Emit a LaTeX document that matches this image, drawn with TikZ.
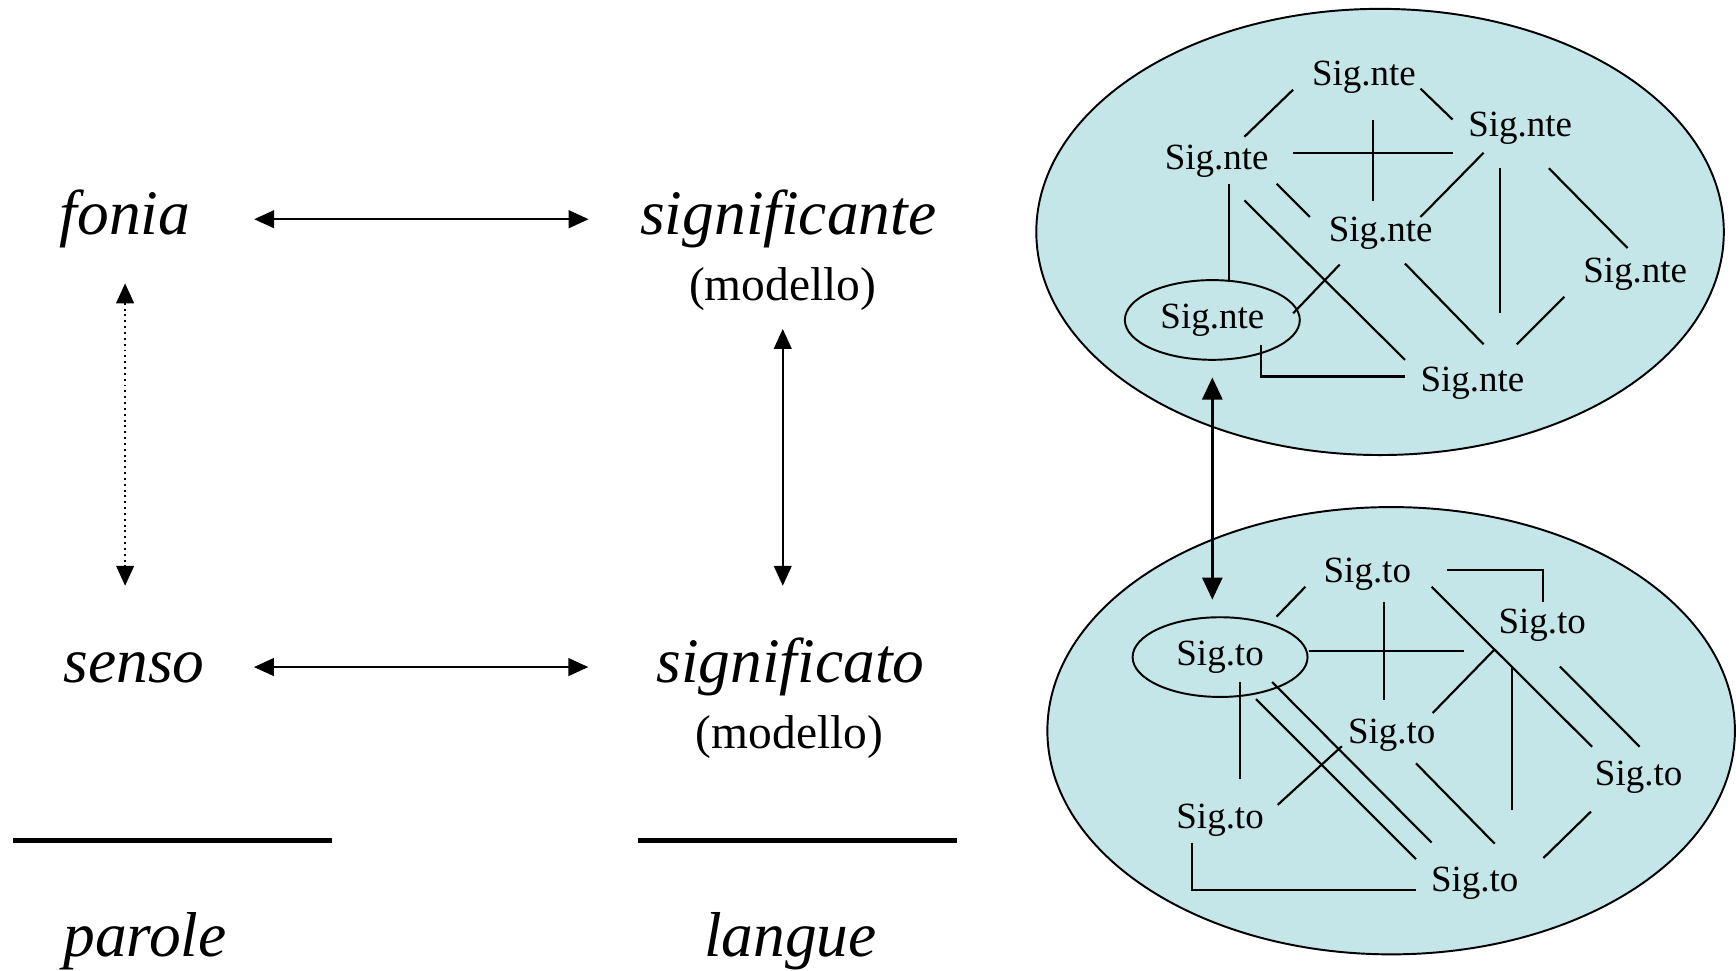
\documentclass[tikz,border=0pt]{standalone}
\usepackage{fontspec}
\setmainfont{Liberation Serif}
\usetikzlibrary{arrows.meta}
\usetikzlibrary{shapes.geometric}
\definecolor{sigblue}{RGB}{196,230,232}

\begin{document}
\begin{tikzpicture}[
  term/.style={font=\fontsize{16.3}{19}\selectfont\itshape, inner sep=0pt, text height=0.40cm, text depth=0.125cm},
  note/.style={font=\fontsize{12.2}{14}\selectfont, inner sep=0pt},
  sig/.style={font=\fontsize{9.5}{11}\selectfont, inner sep=0pt},
  sigring/.style={sig, draw, ellipse, minimum width=1.58cm, minimum height=0.72cm, line width=0.5pt},
  biarrow/.style={line width=0.5pt, {Triangle[length=0.18cm,width=0.16cm]}-{Triangle[length=0.18cm,width=0.16cm]}},
  link/.style={line width=0.55pt},
  bar/.style={line width=1.3pt}
]
\useasboundingbox (0,0) rectangle (15.68,8.77);

% left square
\node[term] (fonia) at (1.13, 6.79) {fonia};
\node[term] (significante) at (7.12, 6.79) {significante};
\node[note] (modelloA) at (7.07, 6.16) {(modello)};
\node[term] (senso) at (1.21, 2.745) {senso};
\node[term] (significato) at (7.14, 2.745) {significato};
\node[note] (modelloB) at (7.13, 2.11) {(modello)};
\node[term] (parole) at (1.31, 0.27) {parole};
\node[term] (langue) at (7.14, 0.27) {langue};

\draw[biarrow, shorten <=0.57cm, shorten >=0.46cm] (fonia) -- (significante);
\draw[biarrow, shorten <=0.44cm, shorten >=0.61cm] (senso) -- (significato);
\draw[biarrow, densely dotted, shorten <=0.31cm, shorten >=0.465cm] (fonia.south) -- (fonia.south |- senso.north);
\draw[biarrow, shorten <=0.16cm, shorten >=0.465cm] (modelloA.south) -- (modelloA.south |- significato.north);

\draw[bar] (0.12,1.18) -- (3.00,1.18);
\draw[bar] (5.76,1.18) -- (8.64,1.18);

% the two clouds
\draw[fill=sigblue, line width=0.5pt] (12.465,6.675) ellipse (3.105 and 2.015);
\draw[fill=sigblue, line width=0.5pt] (12.565,2.17) ellipse (3.105 and 2.02);

\node[sig] (nteTop) at (12.32, 8.07) {Sig.nte};
\node[sig] (nteRU) at (13.73, 7.61) {Sig.nte};
\node[sig] (nteLU) at (10.99, 7.31) {Sig.nte};
\node[sig] (nteC) at (12.47, 6.66) {Sig.nte};
\node[sig] (nteR) at (14.77, 6.29) {Sig.nte};
\node[sigring] (nteA) at (10.95, 5.88) {Sig.nte};
\node[sig] (nteB) at (13.30, 5.31) {Sig.nte};

\draw[link] (11.24,7.535) -- (11.68,7.96);
\draw[link] (12.83,7.97) -- (13.12,7.69);
\draw[link] (11.68,7.385) -- (13.12,7.385);
\draw[link] (12.40,7.69) -- (12.40,6.95);
\draw[link] (13.40,7.39) -- (12.83,6.81);
\draw[link] (13.55,7.25) -- (13.55,5.94);
\draw[link] (13.99,7.25) -- (14.70,6.53);
\draw[link] (11.10,7.11) -- (11.10,6.24);
\draw[link] (11.53,7.11) -- (11.83,6.81);
\draw[link] (11.24,6.96) -- (12.69,5.52);
\draw[link] (12.10,6.38) -- (11.68,5.94);
\draw[link] (12.69,6.39) -- (13.40,5.66);
\draw[link] (14.13,6.09) -- (13.70,5.66);
\draw[link] (11.39,5.65) -- (11.39,5.37) -- (12.69,5.37);

\node[sig] (toTop) at (12.35, 3.58) {Sig.to};
\node[sig] (toRU) at (13.93, 3.125) {Sig.to};
\node[sigring] (toA) at (11.02, 2.835) {Sig.to};
\node[sig] (toC) at (12.57, 2.13) {Sig.to};
\node[sig] (toR) at (14.80, 1.75) {Sig.to};
\node[sig] (toL) at (11.02, 1.36) {Sig.to};
\node[sig] (toB) at (13.32, 0.79) {Sig.to};

\draw[link] (11.53,3.20) -- (11.79,3.47);
\draw[link] (13.07,3.62) -- (13.94,3.62) -- (13.94,3.33);
\draw[link] (12.50,3.33) -- (12.50,2.45);
\draw[link] (11.82,2.89) -- (13.22,2.89);
\draw[link] (12.93,3.47) -- (14.38,2.025);
\draw[link] (13.50,2.905) -- (12.94,2.33);
\draw[link] (13.66,2.75) -- (13.66,1.45);
\draw[link] (14.09,2.75) -- (14.81,2.025);
\draw[link] (11.20,2.61) -- (11.20,1.73);
\draw[link] (11.49,2.61) -- (12.93,1.16);
\draw[link] (11.345,2.455) -- (12.79,1.01);
\draw[link] (12.12,2.03) -- (11.54,1.50);
\draw[link] (12.79,1.875) -- (13.50,1.15);
\draw[link] (14.37,1.44) -- (13.94,1.02);
\draw[link] (10.765,1.16) -- (10.765,0.73) -- (12.79,0.73);

\draw[biarrow, line width=0.8pt, {Triangle[length=0.2cm,width=0.18cm]}-{Triangle[length=0.2cm,width=0.18cm]}, shorten <=0.15cm, shorten >=0.15cm] (nteA.south) -- (nteA.south |- toA.north);

\end{tikzpicture}
\end{document}
